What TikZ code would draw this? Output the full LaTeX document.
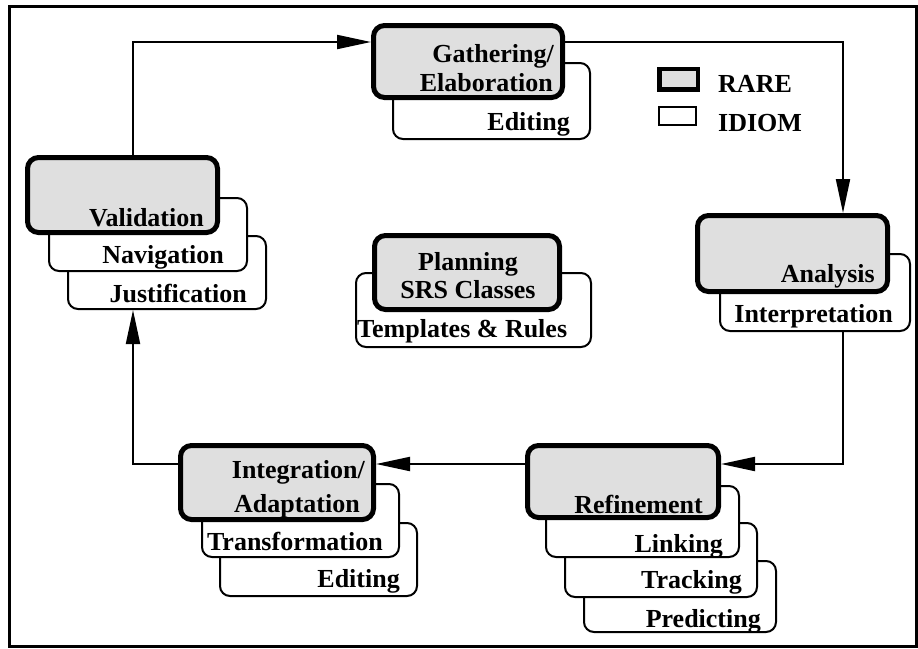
\documentclass[tikz,border=0pt]{standalone}
\usepackage{fontspec}
\setmainfont{Liberation Serif}
\usetikzlibrary{arrows.meta}
\tikzset{
  rare/.style={draw=black, line width=5pt, fill=gray!25, rounded corners=11pt,
    inner sep=0pt, minimum width=#1},
  idiom/.style={draw=black, line width=2pt, fill=white, rounded corners=10pt,
    inner sep=0pt, minimum width=#1},
  lbl/.style={font=\fontsize{26}{29}\selectfont\bfseries, inner sep=0pt},
  conn/.style={line width=2pt},
  tip/.style={-{Triangle[length=34pt,width=14pt]}},
}
\begin{document}
\begin{tikzpicture}[x=1pt,y=-1pt]
\useasboundingbox (0,0) rectangle (918,648);
\draw[line width=3pt] (9,6) rectangle (916.5,646.5);

% Gathering / Elaboration
\node[idiom=197pt, minimum height=76pt] (gedit) at (491.5,101) {};
\node[rare=189pt, minimum height=72pt] (gath) at (468,61.5) {};
\node[lbl, anchor=base east] (tg1) at (554,62) {Gathering/};
\node[lbl, anchor=base east] (tg2) at (553,91) {Elaboration};
\node[lbl, anchor=base east] (tg3) at (570,130) {Editing};

% Analysis
\node[idiom=190pt, minimum height=77pt] (interp) at (815,292.5) {};
\node[rare=190pt, minimum height=76pt] (anal) at (792.5,253.5) {};
\node[lbl, anchor=base east] (ta1) at (875,282) {Analysis};
\node[lbl, anchor=base east] (ta2) at (893,322) {Interpretation};

% Refinement
\node[idiom=192pt, minimum height=71pt] (pred) at (680,596.5) {};
\node[idiom=192pt, minimum height=74pt] (track) at (661,560) {};
\node[idiom=193pt, minimum height=71pt] (link) at (642.5,521.5) {};
\node[rare=191pt, minimum height=72pt] (refi) at (623,481.5) {};
\node[lbl, anchor=base east] (tr1) at (703,513) {Refinement};
\node[lbl, anchor=base east] (tr2) at (723,552) {Linking};
\node[lbl, anchor=base east] (tr3) at (742,588) {Tracking};
\node[lbl, anchor=base east] (tr4) at (761,627) {Predicting};

% Integration / Adaptation
\node[idiom=197pt, minimum height=73pt] (iedit) at (318.5,559.5) {};
\node[idiom=197pt, minimum height=73pt] (transf) at (300.5,520.5) {};
\node[rare=193pt, minimum height=74pt] (integ) at (277,482.5) {};
\node[lbl, anchor=base east] (ti1) at (365,478) {Integration/};
\node[lbl, anchor=base east] (ti2) at (360,512) {Adaptation};
\node[lbl, anchor=base east] (ti3) at (383,550) {Transformation};
\node[lbl, anchor=base east] (ti4) at (400,587) {Editing};

% Validation
\node[idiom=198pt, minimum height=73pt] (just) at (167,272.5) {};
\node[idiom=198pt, minimum height=73pt] (nav) at (148,234.5) {};
\node[rare=190pt, minimum height=75pt] (vali) at (122.5,195) {};
\node[lbl, anchor=base east] (tv1) at (204,226) {Validation};
\node[lbl, anchor=base east] (tv2) at (224,263) {Navigation};
\node[lbl, anchor=base east] (tv3) at (247,302) {Justification};

% Planning
\node[idiom=235pt, minimum height=74pt] (tmpl) at (473.5,310) {};
\node[rare=185pt, minimum height=74pt] (plan) at (467,272.5) {};
\node[lbl, anchor=base] (tp1) at (468,270) {Planning};
\node[lbl, anchor=base] (tp2) at (468,298) {SRS Classes};
\node[lbl, anchor=base west] (tp3) at (357,337) {Templates \& Rules};

% Legend
\node[draw=black, line width=4.5pt, fill=gray!25, inner sep=0pt,
  minimum width=38.5pt, minimum height=20.5pt] (lrare) at (678.5,79) {};
\node[draw=black, line width=2pt, fill=white, inner sep=0pt,
  minimum width=37pt, minimum height=18pt] (lidiom) at (677.5,116) {};
\node[lbl, anchor=base west] (tl1) at (718,92) {RARE};
\node[lbl, anchor=base west] (tl2) at (718,131) {IDIOM};

% Cycle corners
\coordinate (ctl) at (133,42);
\coordinate (ctr) at (843,42);
\coordinate (cbr) at (843,464);
\coordinate (cbl) at (133,464);

% Connectors
\draw[conn, tip] (vali.north -| ctl) -- (ctl) -- (ctl -| gath.west);
\draw[conn, tip] (ctr -| gath.east) -- (ctr) -- (anal.north -| ctr);
\draw[conn, tip] (interp.south -| cbr) -- (cbr) -- (cbr -| refi.east);
\draw[conn, tip] (cbr -| refi.west) -- (cbr -| integ.east);
\draw[conn, tip] (cbl -| integ.west) -- (cbl) -- (just.south -| cbl);
\end{tikzpicture}
\end{document}
